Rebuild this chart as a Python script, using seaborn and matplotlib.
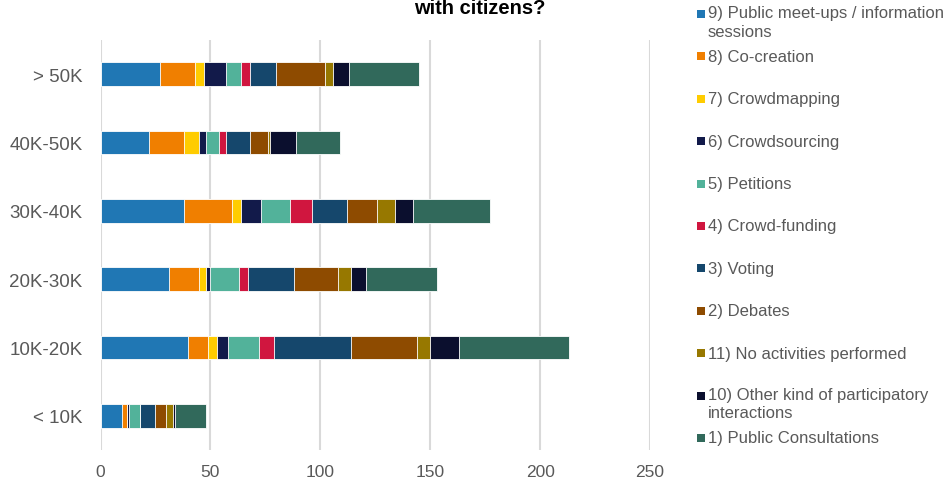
import numpy as np
import pandas as pd
import matplotlib.pyplot as plt
import seaborn as sns
from matplotlib.patches import Rectangle

# population classes (top to bottom)
categories = ["> 50K", "40K-50K", "30K-40K", "20K-30K", "10K-20K", "< 10K"]

# activity types, in stacking order (left to right)
series_names = [
    "9) Public meet-ups / information\nsessions",
    "8) Co-creation",
    "7) Crowdmapping",
    "6) Crowdsourcing",
    "5) Petitions",
    "4) Crowd-funding",
    "3) Voting",
    "2) Debates",
    "11) No activities performed",
    "10) Other kind of participatory\ninteractions",
    "1) Public Consultations",
]
series_colors = [
    "#2077b4", "#f07f00", "#ffcc00", "#121a4a", "#52b29a", "#d0163f",
    "#15476c", "#8e4b00", "#977800", "#0b0f2e", "#31695b",
]

public_meetups = [27, 22, 38, 31, 40, 10]
co_creation = [16, 16, 22, 14, 9, 2]
crowdmapping = [4, 7, 4, 3, 4, 0]
crowdsourcing = [10, 3, 9, 2, 5, 1]
petitions = [7, 6, 13, 13, 14, 5]
crowd_funding = [4, 3, 10, 4, 7, 0]
voting = [12, 11, 16, 21, 35, 7]
debates = [22, 8, 14, 20, 30, 5]
no_activities = [4, 1, 8, 6, 6, 3]
other_kind = [7, 12, 8, 7, 13, 1]
public_consultations = [32, 20, 35, 32, 50, 14]

series_values = [
    public_meetups, co_creation, crowdmapping, crowdsourcing, petitions,
    crowd_funding, voting, debates, no_activities, other_kind,
    public_consultations,
]

text_color = "#595959"

sns.set_theme(style="white")
plt.rcParams["font.family"] = ["Liberation Sans", "DejaVu Sans"]

W, H = 950, 489
fig = plt.figure(figsize=(W / 100, H / 100), dpi=100)
ax = fig.add_axes([100.5 / W, 1 - 451 / H, (650 - 100.5) / W, (451 - 41) / H])

# stacked bars: draw cumulative totals from the longest down so each layer covers the next
cum = np.cumsum(np.array(series_values), axis=0)
for i in reversed(range(len(series_names))):
    df = pd.DataFrame({"category": categories, "value": cum[i]})
    sns.barplot(
        data=df, x="value", y="category", order=categories, orient="h",
        color=series_colors[i], saturation=1, width=0.35,
        edgecolor="white", linewidth=0.6, ax=ax,
    )

ax.set_xlim(0, 250)
ax.set_xticks(range(0, 251, 50))
ax.set_xlabel("")
ax.set_ylabel("")
ax.xaxis.grid(True, color="#d9d9d9", linewidth=1.5)
ax.yaxis.grid(False)
ax.set_axisbelow(True)
for s in ax.spines.values():
    s.set_visible(False)
ax.tick_params(axis="x", length=0, pad=10, labelsize=12.5, labelcolor=text_color)
ax.tick_params(axis="y", length=0, pad=13, labelsize=13.5, labelcolor=text_color)

# title (first line sits above the canvas)
fig.text(480 / W, 1 - 14 / H, "with citizens?", ha="center", va="baseline",
         fontsize=14.5, fontweight="bold", color="black")

# legend, built by hand so the marker sits on the first line of wrapped labels
step = 42.4
for i, (name, color) in enumerate(zip(series_names, series_colors)):
    yc = 15 + i * step
    fig.add_artist(Rectangle((697 / W, 1 - (yc + 4) / H), 8 / W, 8 / H,
                             transform=fig.transFigure, facecolor=color,
                             edgecolor="none"))
    if "\n" in name:
        fig.text(708 / W, 1 - (yc - 9) / H, name, ha="left", va="top",
                 fontsize=12, color=text_color, linespacing=1.3)
    else:
        fig.text(708 / W, 1 - yc / H, name, ha="left", va="center",
                 fontsize=12, color=text_color)

fig.savefig("out.png", dpi=100)
